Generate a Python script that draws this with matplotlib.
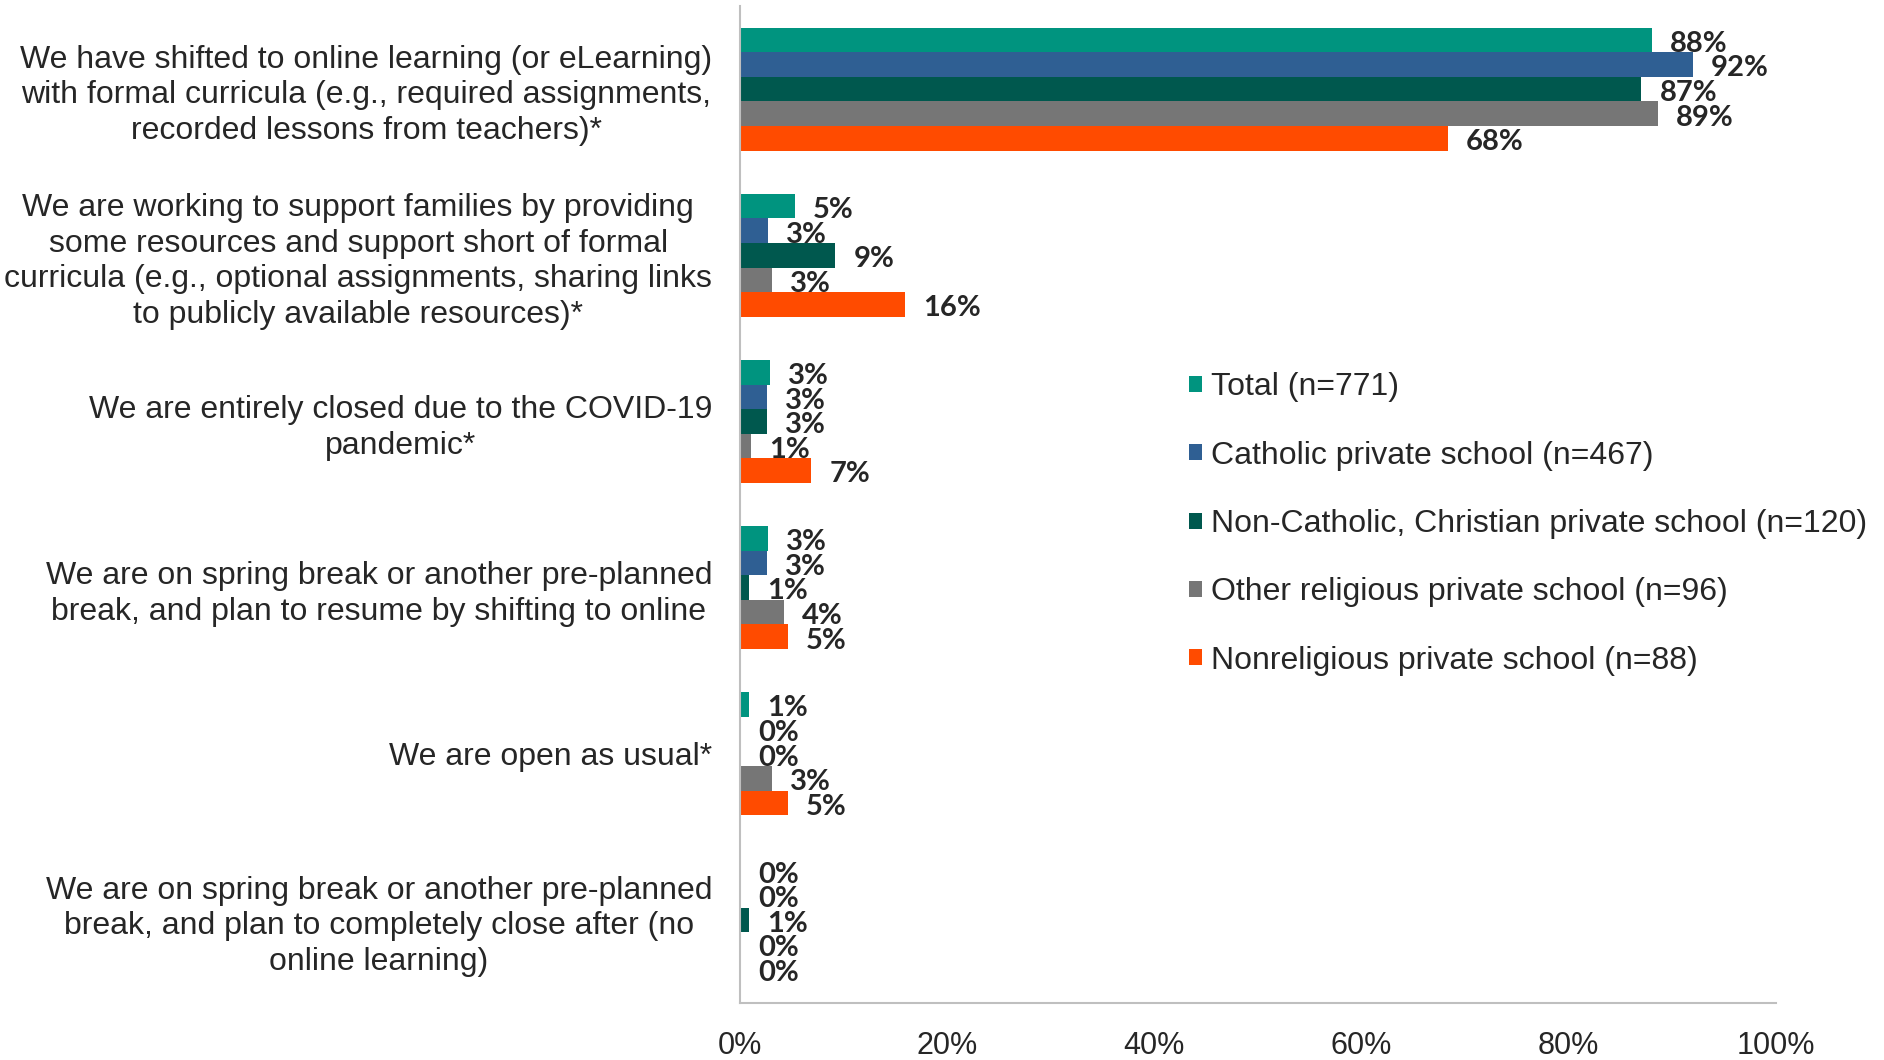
import matplotlib
matplotlib.use("Agg")
import matplotlib.pyplot as plt
from matplotlib.patches import Patch
import numpy as np

categories = [
    "We have shifted to online learning (or eLearning)\nwith formal curricula (e.g., required assignments,\nrecorded lessons from teachers)*",
    "We are working to support families by providing\nsome resources and support short of formal\ncurricula (e.g., optional assignments, sharing links\nto publicly available resources)*",
    "We are entirely closed due to the COVID-19\npandemic*",
    "We are on spring break or another pre-planned\nbreak, and plan to resume by shifting to online",
    "We are open as usual*",
    "We are on spring break or another pre-planned\nbreak, and plan to completely close after (no\nonline learning)",
]

series_names = [
    "Total (n=771)",
    "Catholic private school (n=467)",
    "Non-Catholic, Christian private school (n=120)",
    "Other religious private school (n=96)",
    "Nonreligious private school (n=88)",
]

total = [88.0, 5.3, 2.9, 2.7, 0.9, 0.0]
catholic = [92.0, 2.7, 2.6, 2.6, 0.0, 0.0]
non_catholic = [87.0, 9.2, 2.6, 0.9, 0.0, 0.9]
other_religious = [88.6, 3.1, 1.1, 4.2, 3.1, 0.0]
nonreligious = [68.3, 15.9, 6.9, 4.6, 4.6, 0.0]

xticks = [0, 20, 40, 60, 80, 100]
xtick_labels = ["0%", "20%", "40%", "60%", "80%", "100%"]

colors = ["#00947F", "#2F5F93", "#00584E", "#767676", "#FF4B00"]

W, H = 1884, 1060
fig = plt.figure(figsize=(W / 100, H / 100), dpi=100)
ax = fig.add_axes([740 / W, 1 - 1003 / H, (1776 - 740) / W, (1003 - 6) / H])

series = [total, catholic, non_catholic, other_religious, nonreligious]
n = len(categories)
y = np.arange(n)
h = 0.148
text_color = "#262626"

for j, (vals, col) in enumerate(zip(series, colors)):
    pos = y + (j - 2) * h
    ax.barh(pos, vals, height=h, color=col, edgecolor="none")
    for p, v in zip(pos, vals):
        ax.annotate(f"{int(round(v))}%", xy=(v, p), xytext=(13, -2.8),
                    textcoords="offset points", va="center", ha="left",
                    fontsize=21, fontweight="bold", family=["Lato", "DejaVu Sans"],
                    color=text_color)

ax.set_xlim(0, 100)
ax.set_ylim(n - 0.5, -0.5)
ax.set_xticks(xticks)
ax.set_xticklabels(xtick_labels, family=["Liberation Sans", "DejaVu Sans"],
                   fontsize=22, color=text_color)
ax.set_yticks(y)
ax.set_yticklabels(categories, family=["Liberation Sans", "DejaVu Sans"],
                   fontsize=23, color=text_color, linespacing=1.25)
for lab in ax.get_yticklabels():
    lab.set_multialignment("center")
ax.tick_params(axis="both", length=0)
ax.tick_params(axis="y", pad=20)
ax.tick_params(axis="x", pad=20)

for s in ["top", "right"]:
    ax.spines[s].set_visible(False)
for s in ["left", "bottom"]:
    ax.spines[s].set_color("#BFBFBF")
    ax.spines[s].set_linewidth(1.5)

handles = [Patch(facecolor=c, edgecolor="none") for c in colors]
fig.legend(handles, series_names, loc="center left",
           bbox_to_anchor=(1189 / W, 1 - 524 / H), frameon=False,
           borderpad=0, borderaxespad=0, handlelength=0.4, handleheight=0.4,
           handletextpad=0.3, labelspacing=1.2,
           prop={"family": ["Liberation Sans", "DejaVu Sans"], "size": 23},
           labelcolor=text_color)

fig.savefig("out.png", dpi=100)
